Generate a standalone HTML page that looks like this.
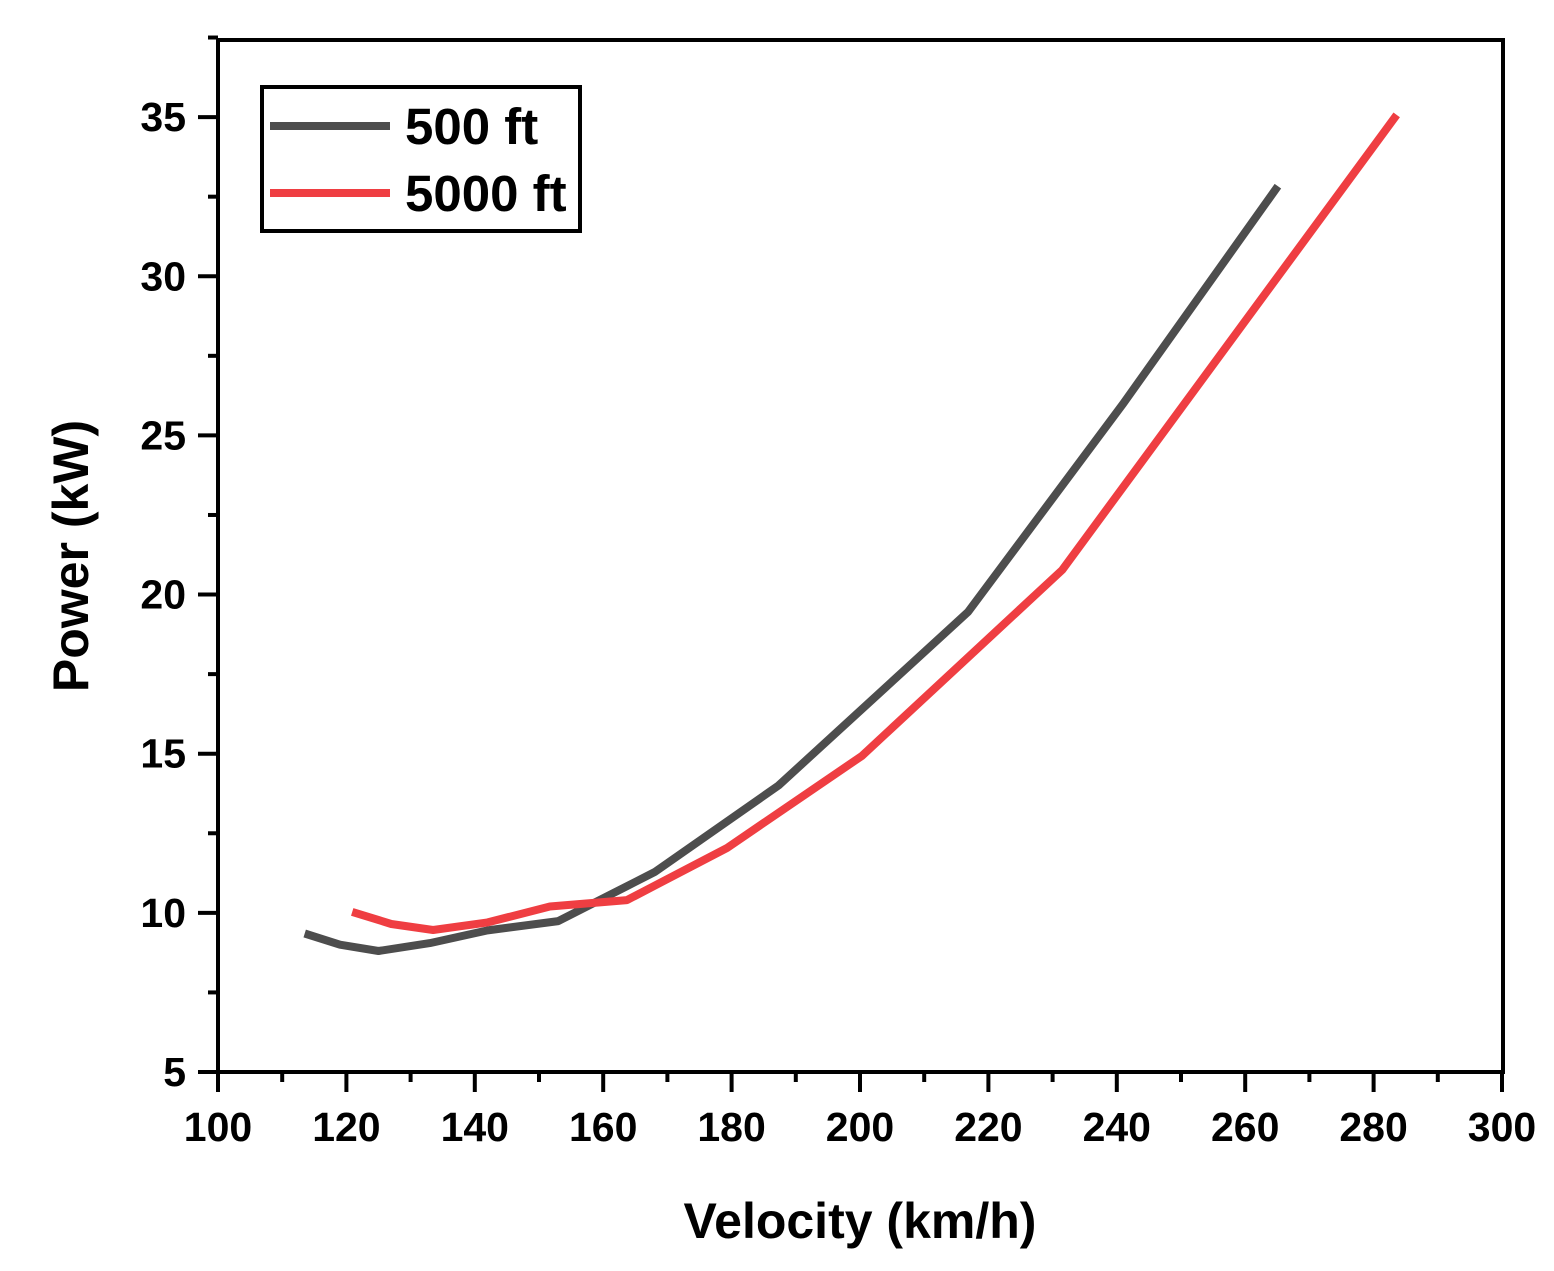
<!DOCTYPE html>
<html><head><meta charset="utf-8"><style>
body{margin:0;background:#fff}
svg text{font-family:"Liberation Sans",Arial,sans-serif;font-weight:bold;fill:#000}
</style></head><body>
<svg id="chart" width="1554" height="1266" viewBox="0 0 1554 1266" xmlns="http://www.w3.org/2000/svg">
<rect x="218" y="40" width="1285" height="1032" fill="none" stroke="#000" stroke-width="4"/>
<g id="axes"></g>
<g id="series"></g>
<text x="860" y="1238" font-size="50" text-anchor="middle">Velocity (km/h)</text>
<text transform="translate(88,556) rotate(-90)" font-size="50" text-anchor="middle">Power (kW)</text>
<g>
<rect x="262" y="87" width="318" height="144" fill="#fff" stroke="#000" stroke-width="4"/>
<line x1="270" y1="126" x2="390" y2="126" stroke="#4d4d4d" stroke-width="8"/>
<text x="405" y="144" font-size="51">500 ft</text>
<line x1="270" y1="193" x2="390" y2="193" stroke="#ef3e42" stroke-width="8"/>
<text x="405" y="211" font-size="51">5000 ft</text>
</g>
</svg>
<script>
const xTicks=[100,120,140,160,180,200,220,240,260,280,300];
const yTicks=[5,10,15,20,25,30,35];
const v500=[113.5,119,125,133,142,153,168,187.3,216.8,241,265.1];
const p500=[9.35,9.0,8.8,9.05,9.45,9.74,11.28,14.0,19.45,26.0,32.83];
const v5000=[120.9,127,133.5,142,151.7,163.7,179.3,200.3,231.5,283.6];
const p5000=[10.03,9.65,9.46,9.7,10.2,10.4,12.04,14.93,20.77,35.07];
const X=v=>218+(v-100)*6.42;
const Y=p=>1072-(p-5)*31.83;
const NS="http://www.w3.org/2000/svg";
const ax=document.getElementById('axes');
function mk(t,a,parent){const e=document.createElementNS(NS,t);for(const k in a)e.setAttribute(k,a[k]);parent.appendChild(e);return e;}
xTicks.forEach((v,i)=>{
 const l=mk('line',{x1:X(v),x2:X(v),y1:1072,y2:1092,stroke:'#000','stroke-width':4},ax);
 
 
 const t=mk('text',{x:X(v),y:1141,'font-size':41,'text-anchor':'middle'},ax);t.textContent=v;
 
 
 if(i<xTicks.length-1){const m=mk('line',{x1:X(v+10),x2:X(v+10),y1:1072,y2:1082,stroke:'#000','stroke-width':4},ax);
 
 }
});
yTicks.forEach((v,i)=>{
 const l=mk('line',{x1:198,x2:218,y1:Y(v),y2:Y(v),stroke:'#000','stroke-width':4},ax);
 
 
 const t=mk('text',{x:186,y:Y(v)+14,'font-size':41,'text-anchor':'end'},ax);t.textContent=v;
 
 
 const m=mk('line',{x1:208,x2:218,y1:Y(v+2.5),y2:Y(v+2.5),stroke:'#000','stroke-width':4},ax);
 
 
});
const sg=document.getElementById('series');
function line(xs,ys,c,name){
 const d=xs.map((v,i)=>(i?'L':'M')+X(v).toFixed(1)+','+Y(ys[i]).toFixed(1)).join(' ');
 const p=mk('path',{d:d,fill:'none',stroke:c,'stroke-width':8,'stroke-linejoin':'round'},sg);
 
 
}
line(v500,p500,'#4d4d4d','series-500ft');
line(v5000,p5000,'#ef3e42','series-5000ft');
</script>
</body></html>
